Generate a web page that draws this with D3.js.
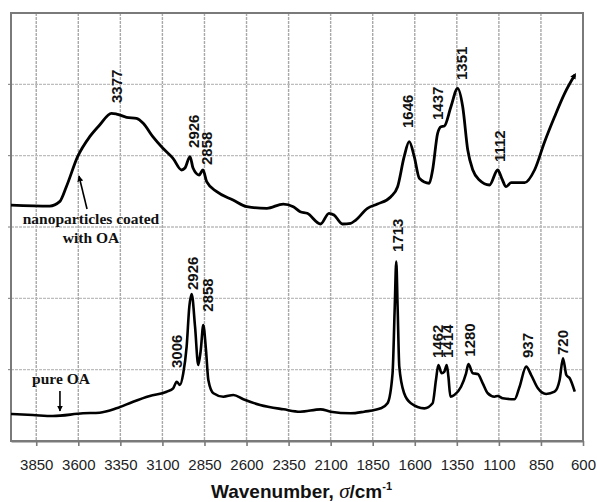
<!DOCTYPE html>
<html>
<head>
<meta charset="utf-8">
<script src="https://cdn.jsdelivr.net/npm/d3@7"></script>
<style>
html,body{margin:0;padding:0;background:#fff;}
svg{display:block;}
</style>
</head>
<body>
<svg id="chart" width="597" height="502"></svg>
<script>
// ---- data ----
const xTicks = [3850,3600,3350,3100,2850,2600,2350,2100,1850,1600,1350,1100,850,600];
const yGrid = [1,2,3,4,5];

// nanoparticles coated with OA: [wavenumber, relative transmittance]
const coatedWn = [4000,3770,3711,3671,3604,3532,3473,3403,3373,3313,3254,3214,3157,3097,3037,2986,2966,2936,2918,2882,2859,2837,2777,2680,2598,2479,2382,2322,2281,2239,2160,2110,2080,2030,1981,1951,1881,1822,1742,1702,1663,1633,1603,1573,1514,1494,1464,1444,1424,1385,1345,1315,1285,1255,1216,1156,1107,1083,1057,1027,947,888,828,769,709,649];
const coatedVal = [3.308,3.294,3.355,3.565,3.986,4.266,4.430,4.594,4.584,4.538,4.524,4.454,4.266,4.103,3.963,3.799,3.827,3.986,3.827,3.729,3.799,3.635,3.495,3.379,3.285,3.262,3.322,3.285,3.215,3.192,3.042,3.192,3.168,3.042,3.052,3.098,3.262,3.322,3.425,3.565,3.986,4.196,3.986,3.683,3.613,3.799,4.314,4.406,4.416,4.686,4.944,4.686,4.079,3.799,3.659,3.589,3.799,3.683,3.565,3.621,3.621,3.799,4.196,4.546,4.874,5.131];

// pure OA
const pureWn = [4000,3870,3751,3572,3473,3373,3274,3175,3075,3036,3015,2996,2976,2956,2940,2926,2906,2887,2872,2857,2841,2827,2797,2738,2678,2619,2519,2380,2281,2160,2100,1981,1901,1802,1762,1732,1719,1710,1702,1692,1663,1623,1543,1494,1474,1460,1440,1424,1410,1400,1388,1365,1325,1295,1281,1255,1226,1196,1166,1126,1107,1077,1007,977,938,908,868,819,769,739,719,699,679,649];
const pureVal = [0.379,0.364,0.350,0.388,0.397,0.458,0.551,0.631,0.691,0.739,0.831,0.785,0.949,1.322,1.883,2.061,1.602,1.065,1.276,1.626,1.276,0.855,0.669,0.621,0.645,0.585,0.505,0.444,0.411,0.444,0.411,0.388,0.411,0.458,0.529,0.949,1.883,2.514,1.883,1.042,0.669,0.529,0.458,0.529,0.855,1.065,0.949,0.972,1.065,0.901,0.621,0.645,0.761,0.949,1.079,0.949,0.939,0.809,0.669,0.621,0.631,0.599,0.585,0.761,1.042,0.925,0.739,0.659,0.691,0.855,1.159,0.925,0.879,0.691];

// peak labels: text, wavenumber of label, value at label's lower end
const coatedPeakText = ["3377","2926","2858","1646","1437","1351","1112"];
const coatedPeakWn   = [3373,2918,2835,1643,1464,1321,1096];
const coatedPeakVal  = [4.738,4.108,3.869,4.388,4.5,5.061,3.911];
const purePeakText = ["3006","2926","2858","1713","1462","1414","1280","937","720"];
const purePeakWn   = [3015,2920,2833,1704,1464,1404,1275,928,719];
const purePeakVal  = [1.023,2.117,1.813,2.650,1.164,1.164,1.182,1.164,1.206];

// ---- chart ----
const svg = d3.select("#chart");
const L = 11, R = 583, T = 13, B = 441;
const x = d3.scaleLinear().domain([4000,600]).range([L,R]);
const y = d3.scaleLinear().domain([0,6]).range([B,T]);

svg.append("rect").attr("width",597).attr("height",502).attr("fill","#fff");

// gridlines
svg.append("g").selectAll("line").data(xTicks.filter(d=>d!==600)).join("line")
  .attr("x1",d=>x(d)).attr("x2",d=>x(d)).attr("y1",T).attr("y2",B)
  .attr("stroke","#a9a9a9").attr("stroke-width",1.4).attr("stroke-dasharray","3 1");
svg.append("g").selectAll("line").data(yGrid).join("line")
  .attr("x1",L).attr("x2",R).attr("y1",d=>y(d)).attr("y2",d=>y(d))
  .attr("stroke","#bdbdbd").attr("stroke-width",1.4).attr("stroke-dasharray","3 1");

// frame
svg.append("rect").attr("x",L).attr("y",T).attr("width",R-L).attr("height",B-T)
  .attr("fill","none").attr("stroke","#7a7a7a").attr("stroke-width",2);

// x axis
const xAxis = d3.axisBottom(x).tickValues(xTicks).tickSize(5).tickSizeOuter(0).tickPadding(13).tickFormat(d3.format("d"));
const gx = svg.append("g").attr("transform",`translate(0,${B})`).call(xAxis);
gx.select(".domain").attr("stroke","#7a7a7a").attr("stroke-width",2);
gx.selectAll(".tick line").attr("stroke","#7a7a7a").attr("stroke-width",1.6);
gx.selectAll(".tick text").attr("font-family","Liberation Sans, Arial, sans-serif")
  .attr("font-size",15).attr("fill","#222");

// left small ticks
svg.append("g").selectAll("line").data(yGrid).join("line")
  .attr("x1",L-3).attr("x2",L).attr("y1",d=>y(d)).attr("y2",d=>y(d))
  .attr("stroke","#7a7a7a");

// markers
const defs = svg.append("defs");
defs.append("marker").attr("id","ah").attr("viewBox","0 0 10 10").attr("refX",9).attr("refY",5)
  .attr("markerWidth",6).attr("markerHeight",8).attr("markerUnits","userSpaceOnUse").attr("orient","auto")
  .append("path").attr("d","M0,0 L10,5 L0,10 Z").attr("fill","#000");
defs.append("marker").attr("id","endcap").attr("viewBox","0 0 10 10").attr("refX",6).attr("refY",5)
  .attr("markerWidth",6).attr("markerHeight",6).attr("markerUnits","userSpaceOnUse").attr("orient","auto")
  .append("path").attr("d","M0,0 L10,5 L0,10 Z").attr("fill","#000");

// curves
const line = d3.line().x(d=>x(d[0])).y(d=>y(d[1])).curve(d3.curveMonotoneX);
const coated = coatedWn.map((w,i)=>[w,coatedVal[i]]);
const pure = pureWn.map((w,i)=>[w,pureVal[i]]);
svg.append("path").datum(coated).attr("d",line).attr("fill","none")
  .attr("stroke","#000").attr("stroke-width",2.8).attr("stroke-linejoin","round")
  .attr("marker-end","url(#endcap)");
svg.append("path").datum(pure).attr("d",line).attr("fill","none")
  .attr("stroke","#000").attr("stroke-width",2.6).attr("stroke-linejoin","round");

// peak labels
function peakLabels(texts, wns, vals){
  svg.append("g").selectAll("text").data(texts).join("text")
    .attr("transform",(d,i)=>`translate(${x(wns[i])+5.5},${y(vals[i])}) rotate(-90)`)
    .attr("text-anchor","start")
    .attr("font-family","Liberation Sans, Arial, sans-serif")
    .attr("font-weight","bold").attr("font-size",15).attr("fill","#111")
    .text(d=>d);
}
peakLabels(coatedPeakText, coatedPeakWn, coatedPeakVal);
peakLabels(purePeakText, purePeakWn, purePeakVal);

// series annotations
const serif = "Liberation Serif, Times New Roman, serif";
svg.append("text").attr("x",91).attr("y",224).attr("text-anchor","middle")
  .attr("font-family",serif).attr("font-weight","bold").attr("font-size",15.5).attr("fill","#111")
  .text("nanoparticles coated");
svg.append("text").attr("x",91).attr("y",243).attr("text-anchor","middle")
  .attr("font-family",serif).attr("font-weight","bold").attr("font-size",15.5).attr("fill","#111")
  .text("with OA");
svg.append("line").attr("x1",x(3548)).attr("y1",209).attr("x2",x(3596)).attr("y2",176)
  .attr("stroke","#000").attr("stroke-width",1.6).attr("marker-end","url(#ah)");
svg.append("text").attr("x",61).attr("y",384).attr("text-anchor","middle")
  .attr("font-family",serif).attr("font-weight","bold").attr("font-size",15.5).attr("fill","#111")
  .text("pure OA");
svg.append("line").attr("x1",x(3709)).attr("y1",391).attr("x2",x(3709)).attr("y2",411)
  .attr("stroke","#000").attr("stroke-width",1.6).attr("marker-end","url(#ah)");

// axis title
const title = svg.append("text").attr("x",211).attr("y",498)
  .attr("font-family","Liberation Sans, Arial, sans-serif").attr("font-weight","bold")
  .attr("font-size",19).attr("fill","#111");
title.append("tspan").text("Wavenumber, ");
title.append("tspan").attr("font-family",serif).attr("font-style","italic").attr("font-weight","normal").attr("font-size",21).text("σ");
title.append("tspan").text("/cm");
title.append("tspan").attr("dy",-8).attr("font-size",11).text("-1");
</script>
</body>
</html>
